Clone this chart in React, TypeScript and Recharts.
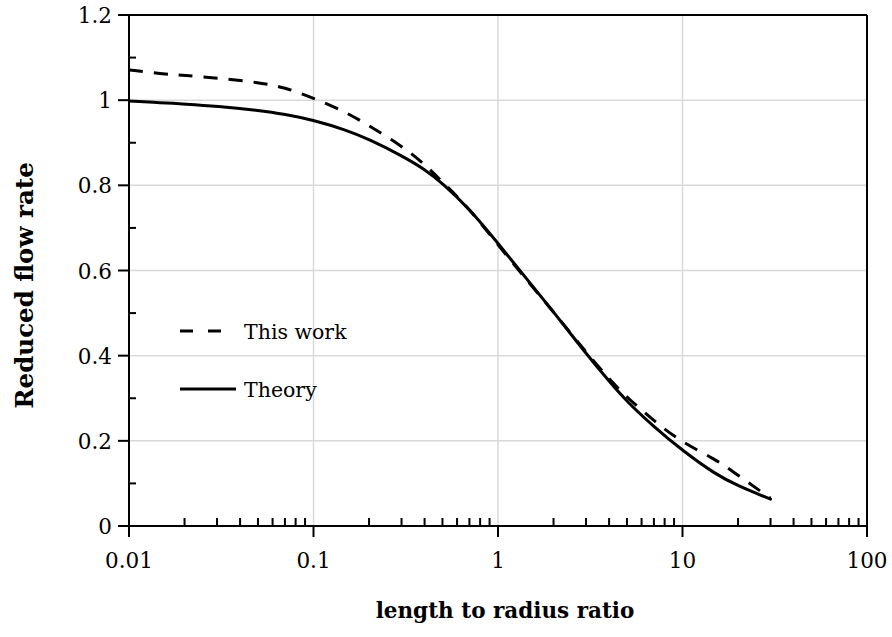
import React from 'react';
import {
  LineChart,
  Line,
  XAxis,
  YAxis,
  ReferenceLine,
  Label,
} from 'recharts';

// x positions sampled along both curves (length / radius)
const ratios = [0.01, 0.015, 0.02, 0.03, 0.05, 0.07, 0.1, 0.15, 0.2, 0.3, 0.4, 0.5, 0.7, 1, 1.5, 2, 3, 4, 5, 7, 10, 15, 20, 30];
const thisWork = [1.071, 1.062, 1.058, 1.052, 1.042, 1.03, 1.005, 0.972, 0.94, 0.893, 0.85, 0.808, 0.745, 0.66, 0.567, 0.503, 0.408, 0.345, 0.302, 0.247, 0.195, 0.158, 0.119, 0.065];
const theory = [0.998, 0.994, 0.991, 0.986, 0.976, 0.967, 0.953, 0.93, 0.908, 0.87, 0.838, 0.805, 0.745, 0.664, 0.569, 0.503, 0.405, 0.34, 0.292, 0.233, 0.177, 0.122, 0.094, 0.063];

const seriesNames = ['This work', 'Theory'];

const xMajor = [0.01, 0.1, 1, 10, 100];
const xMajorLabels = ['0.01', '0.1', '1', '10', '100'];
const xGrid = [0.1, 1, 10];
const yTicks = [0, 0.1, 0.2, 0.3, 0.4, 0.5, 0.6, 0.7, 0.8, 0.9, 1, 1.1, 1.2];
const yMajorLabels: Record<string, string> = { '0': '0', '0.2': '0.2', '0.4': '0.4', '0.6': '0.6', '0.8': '0.8', '1': '1', '1.2': '1.2' };
const yGrid = [0.2, 0.4, 0.6, 0.8, 1];

// minor log ticks 2..9 in every decade
const xTicks = xMajor.flatMap((m, i) =>
  i === xMajor.length - 1 ? [m] : [m, ...[2, 3, 4, 5, 6, 7, 8, 9].map((k) => Number((m * k).toPrecision(3)))]
);

const data = ratios.map((r, i) => ({ r, work: thisWork[i], theory: theory[i] }));

const FONT = '"DejaVu Serif", serif';
const INK = '#000';

const XTick = (props: any) => {
  const { x, y, payload } = props;
  const idx = xMajor.indexOf(payload.value);
  if (idx < 0) {
    return <line x1={x} y1={y} x2={x} y2={y - 8} stroke={INK} strokeWidth={2} />;
  }
  return (
    <g>
      <line x1={x} y1={y} x2={x} y2={y + 11} stroke={INK} strokeWidth={2} />
      <text x={x} y={y + 42} textAnchor="middle" fontFamily={FONT} fontSize={21.5} fill={INK}>
        {xMajorLabels[idx]}
      </text>
    </g>
  );
};

const YTick = (props: any) => {
  const { x, y, payload } = props;
  const label = yMajorLabels[String(payload.value)];
  if (label === undefined) {
    return <line x1={x} y1={y} x2={x + 7} y2={y} stroke={INK} strokeWidth={2} />;
  }
  return (
    <g>
      <line x1={x} y1={y} x2={x - 11} y2={y} stroke={INK} strokeWidth={2} />
      <text x={x - 17} y={y + 8} textAnchor="end" fontFamily={FONT} fontSize={21.5} fill={INK}>
        {label}
      </text>
    </g>
  );
};

const LegendBox = () => (
  <svg width={200} height={95} style={{ position: 'absolute', left: 178, top: 312 }}>
    <line x1={2} y1={19} x2={44} y2={19} stroke={INK} strokeWidth={3} strokeDasharray="13 15" />
    <text x={66} y={27} fontFamily={FONT} fontSize={20.5} fill={INK}>{seriesNames[0]}</text>
    <line x1={2} y1={77} x2={58} y2={77} stroke={INK} strokeWidth={3} />
    <text x={66} y={85} fontFamily={FONT} fontSize={20.5} fill={INK}>{seriesNames[1]}</text>
  </svg>
);

export default function App() {
  return (
    <div style={{ position: 'absolute', left: 0, top: 0, width: 892, height: 637, background: '#fff' }}>
      <LineChart width={892} height={637} data={data} margin={{ top: 14, right: 24, bottom: 110, left: 128 }}>
        <XAxis
          dataKey="r"
          type="number"
          scale="log"
          domain={[0.01, 100]}
          ticks={xTicks}
          interval={0}
          height={1}
          tickSize={0}
          tickMargin={0}
          tickLine={false}
          tick={<XTick />}
          axisLine={{ stroke: INK, strokeWidth: 2 }}
          allowDataOverflow
        >
          <Label
            content={({ viewBox }: any) => (
              <text
                x={viewBox.x + viewBox.width / 2 + 7}
                y={viewBox.y + 92}
                textAnchor="middle"
                fontFamily={FONT}
                fontWeight="bold"
                fontSize={21.5}
                fill={INK}
              >
                length to radius ratio
              </text>
            )}
          />
        </XAxis>
        <XAxis xAxisId="top" orientation="top" type="number" domain={[0, 1]} height={1} tick={false} tickLine={false} axisLine={{ stroke: INK, strokeWidth: 2 }} />
        <YAxis
          type="number"
          domain={[0, 1.2]}
          ticks={yTicks}
          interval={0}
          width={1}
          tickSize={0}
          tickMargin={0}
          tickLine={false}
          tick={<YTick />}
          axisLine={{ stroke: INK, strokeWidth: 2 }}
        >
          <Label
            content={({ viewBox }: any) => {
              const cx = 33;
              const cy = viewBox.y + viewBox.height / 2 + 15;
              return (
                <text
                  x={cx}
                  y={cy}
                  transform={`rotate(-90 ${cx} ${cy})`}
                  textAnchor="middle"
                  fontFamily={FONT}
                  fontWeight="bold"
                  fontSize={24.5}
                  fill={INK}
                >
                  Reduced flow rate
                </text>
              );
            }}
          />
        </YAxis>
        <YAxis yAxisId="right" orientation="right" type="number" domain={[0, 1]} width={1} tick={false} tickLine={false} axisLine={{ stroke: INK, strokeWidth: 2 }} />

        {xGrid.map((v) => (
          <ReferenceLine key={`gx-${v}`} x={v} stroke="#d9d9d9" strokeWidth={1.5} />
        ))}
        {yGrid.map((v) => (
          <ReferenceLine key={`gy-${v}`} y={v} stroke="#d9d9d9" strokeWidth={1.5} />
        ))}

        <Line
          name={seriesNames[0]}
          dataKey="work"
          type="basis"
          stroke={INK}
          strokeWidth={3}
          strokeDasharray="14 11"
          dot={false}
          isAnimationActive={false}
        />
        <Line
          name={seriesNames[1]}
          dataKey="theory"
          type="basis"
          stroke={INK}
          strokeWidth={3}
          strokeLinecap="round"
          dot={false}
          isAnimationActive={false}
        />
      </LineChart>
      <LegendBox />
    </div>
  );
}
